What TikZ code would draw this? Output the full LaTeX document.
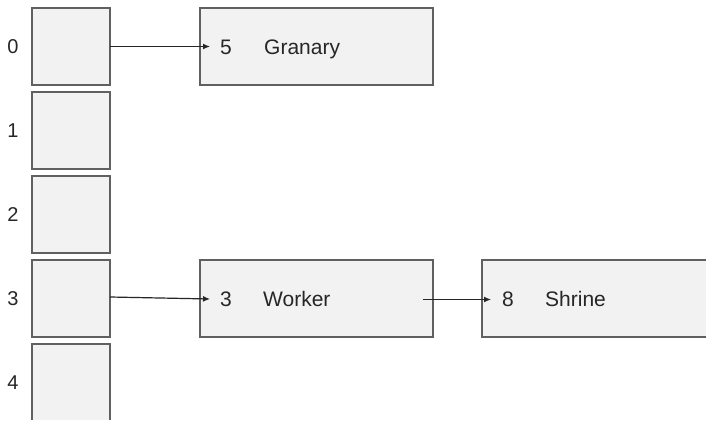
\documentclass[tikz,border=0pt]{standalone}
\usepackage{fontspec}
\setmainfont{Liberation Sans}
\usetikzlibrary{arrows.meta}
\definecolor{boxfill}{HTML}{F2F2F2}
\definecolor{boxline}{HTML}{606060}
\definecolor{inkcol}{HTML}{262626}
\begin{document}
\begin{tikzpicture}[x=1pt,y=-1pt,
  slotbox/.style={draw=boxline,fill=boxfill,line width=1.8pt,anchor=north west,
    minimum width=78pt,minimum height=77pt,inner sep=0pt,outer sep=0pt},
  recbox/.style={draw=boxline,fill=boxfill,line width=1.8pt,anchor=north west,
    minimum width=233pt,minimum height=77pt,inner sep=0pt,outer sep=0pt},
  openside/.style={draw=boxline,line width=1.8pt},
  idx/.style={text=inkcol,font=\fontsize{20}{24}\selectfont,inner sep=0pt},
  txt/.style={text=inkcol,font=\fontsize{21}{25}\selectfont,inner sep=0pt,anchor=base west},
  link/.style={draw=inkcol,line width=1.2pt,-{Latex[length=7pt,width=6pt]}}]
\useasboundingbox (0,0) rectangle (706,420);
\fill[white] (0,0) rectangle (706,420);

% hash table slots with their indices
\foreach \i/\y in {0/8,1/92,2/176,3/260}{
  \node[slotbox] (slot\i) at (32,\y) {};
  \node[idx] (lab\i) at (13,\y+38.5) {\i};
}
% the last slot runs past the lower edge: no bottom side
\node[slotbox,draw=none,minimum height=76pt] (slot4) at (32,344) {};
\draw[openside] (slot4.south west) -- (slot4.north west) -- (slot4.north east) -- (slot4.south east);
\node[idx] (lab4) at (13,382.5) {4};

% chained records
\node[recbox] (granary) at (200,8) {};
\node[txt] (gkey) at ([xshift=20pt,yshift=-8pt]granary.west) {5};
\node[txt] (gname) at ([xshift=64pt,yshift=-8pt]granary.west) {Granary};

\node[recbox] (worker) at (200,260) {};
\node[txt] (wkey) at ([xshift=20pt,yshift=-8pt]worker.west) {3};
\node[txt] (wname) at ([xshift=63pt,yshift=-8pt]worker.west) {Worker};

% the last record runs past the right edge: no right side
\node[recbox,draw=none,minimum width=224pt] (shrine) at (482,260) {};
\draw[openside] (shrine.north east) -- (shrine.north west) -- (shrine.south west) -- (shrine.south east);
\node[txt] (skey) at ([xshift=20pt,yshift=-8pt]shrine.west) {8};
\node[txt] (sname) at ([xshift=63pt,yshift=-8pt]shrine.west) {Shrine};

% pointers
\draw[link] (slot0.east) -- ([xshift=10pt]granary.west);
\draw[link] ([yshift=1.5pt]slot3.east) -- ([xshift=10pt,yshift=-0.5pt]worker.west);
\draw[link] ([xshift=-10pt,yshift=-1pt]worker.east) -- ([xshift=9pt,yshift=-1pt]shrine.west);
\end{tikzpicture}
\end{document}
